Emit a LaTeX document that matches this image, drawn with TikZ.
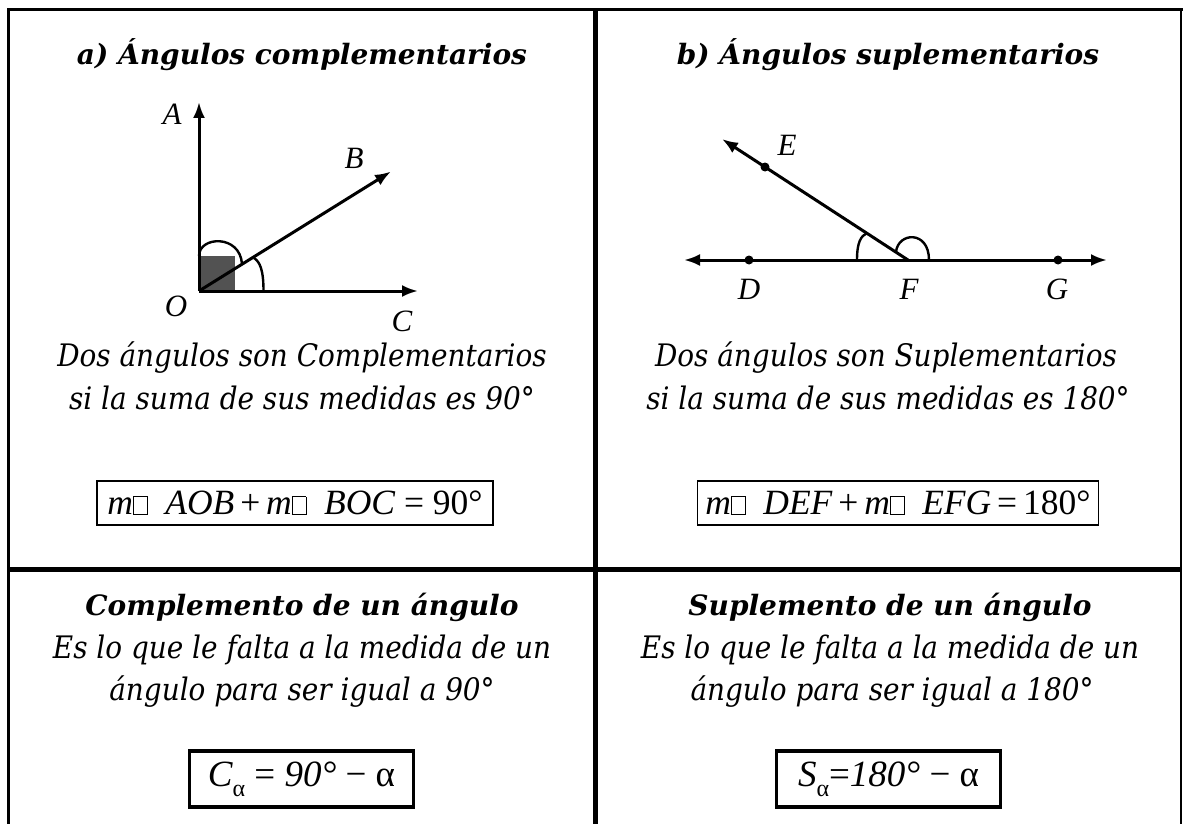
\documentclass[tikz,border=0pt]{standalone}
\usepackage{fontspec}
\setmainfont{DejaVu Serif}
\newfontfamily\bodyf{DejaVu Serif Condensed}
\newfontfamily\tnr{Liberation Serif}
\usetikzlibrary{arrows.meta}
\newcommand\tofu{{\fboxsep=0pt\fboxrule=0.9pt\fbox{\rule{0pt}{0.48em}\hspace{0.36em}}}}
\tikzset{
  frame/.style={line width=3.5pt, line cap=rect},
  ttl/.style={font=\fontsize{28}{30}\selectfont\bfseries\itshape, anchor=base, inner sep=0pt},
  body/.style={font=\bodyf\fontsize{31}{34}\selectfont\itshape, anchor=base, inner sep=0pt},
  lbl/.style={font=\tnr\fontsize{31}{33}\selectfont\itshape, inner sep=0pt},
  ray/.style={line width=3pt, -{Latex[length=16pt,width=12pt]}},
  dray/.style={line width=3pt, {Latex[length=16pt,width=12pt]}-{Latex[length=16pt,width=12pt]}},
  amark/.style={line width=2.4pt},
  dot/.style={circle, fill=black, inner sep=0pt, minimum size=9pt},
  fbx/.style={draw, line width=1.6pt, inner sep=0pt, font=\tnr\fontsize{35.5}{38}\selectfont},
  bbx/.style={draw, line width=3.5pt, inner sep=0pt, font=\tnr\fontsize{37}{40}\selectfont},
}
\begin{document}
\begin{tikzpicture}[x=1pt, y=-1pt]
\useasboundingbox (0,0) rectangle (1183,824);
% frame
\draw[frame] (8.5,824) -- (8.5,9.5) -- (1181,9.5);
\draw[line width=2.5pt] (1181,9.5) -- (1181,824);
\draw[line width=5pt] (595.5,9.5) -- (595.5,824);
\draw[line width=5pt] (8.5,569.5) -- (1181,569.5);

% ---------- panel a ----------
\node[ttl] (ta) at (302,65) {a) Ángulos complementarios};
\coordinate (O) at (199,291);
\coordinate (A) at (199,102);
\coordinate (C) at (418,291);
\coordinate (B) at (391,171.5);
\fill[black!68] (199,256) rectangle (235,291);
\draw[amark] (199,256) .. controls (199,236) and (240,234) .. (242,264);
\draw[amark] (254,258) .. controls (260,262) and (263.5,270) .. (263.5,291);
\draw[ray] (O) -- (A);
\draw[ray] (O) -- (C);
\draw[ray] (O) -- (B);
\node[lbl] (lA) at (172,114) {A};
\node[lbl] (lB) at (354,158) {B};
\node[lbl] (lO) at (176,306) {O};
\node[lbl] (lC) at (402,321) {C};

\node[body] (a1) at (302,366) {Dos ángulos son Complementarios};
\node[body] (a2) at (302,409) {si la suma de sus medidas es 90°};
\node[fbx, minimum width=396pt, minimum height=44pt] (fa) at (295,503)
  {\itshape m\upshape\tofu\ \ \itshape AOB\upshape\,+\,\itshape m\upshape\tofu\ \ \itshape BOC\upshape\ = 90°\hspace{6pt}};

\node[ttl] (ca) at (302,615) {Complemento de un ángulo};
\node[body] (c1) at (302,658) {Es lo que le falta a la medida de un};
\node[body] (c2) at (302,700) {ángulo para ser igual a 90°};
\node[bbx, minimum width=224pt, minimum height=56pt] (bc) at (301.5,779)
  {\itshape C\upshape\raisebox{-0.28em}{\fontsize{24}{24}\selectfont α} = \itshape 90°\upshape\ − α};

% ---------- panel b ----------
\node[ttl] (tb) at (888,65) {b) Ángulos suplementarios};
\coordinate (Lt) at (684,260);
\coordinate (Rt) at (1107,260);
\coordinate (F) at (908,260);
\coordinate (Et) at (722,139);
\draw[amark] (857,260) .. controls (857,242) and (861,236) .. (867,233);
\draw[amark] (896,252) .. controls (898,232) and (929,230) .. (929,260);
\draw[dray] (Lt) -- (Rt);
\draw[ray] (F) -- (Et);
\node[dot] (D) at (749,260) {};
\node[dot] (G) at (1058,260) {};
\node[dot] (E) at (765,167) {};
\node[lbl] (lE) at (787,145) {E};
\node[lbl] (lD) at (749,289) {D};
\node[lbl] (lF) at (909,289) {F};
\node[lbl] (lG) at (1057,289) {G};

\node[body] (b1) at (886,366) {Dos ángulos son Suplementarios};
\node[body] (b2) at (888,409) {si la suma de sus medidas es 180°};
\node[fbx, minimum width=401pt, minimum height=44pt] (fb) at (898,503)
  {\itshape m\upshape\tofu\ \ \itshape DEF\upshape\,+\,\itshape m\upshape\tofu\ \ \itshape EFG\upshape\,=\,180°\hspace{6pt}};

\node[ttl] (sb) at (890,615) {Suplemento de un ángulo};
\node[body] (s1) at (890,658) {Es lo que le falta a la medida de un};
\node[body] (s2) at (892,700) {ángulo para ser igual a 180°};
\node[bbx, minimum width=224pt, minimum height=56pt] (bs) at (888.5,779)
  {\itshape S\upshape\raisebox{-0.28em}{\fontsize{24}{24}\selectfont α}=\itshape 180°\upshape\ − α};
\end{tikzpicture}
\end{document}
